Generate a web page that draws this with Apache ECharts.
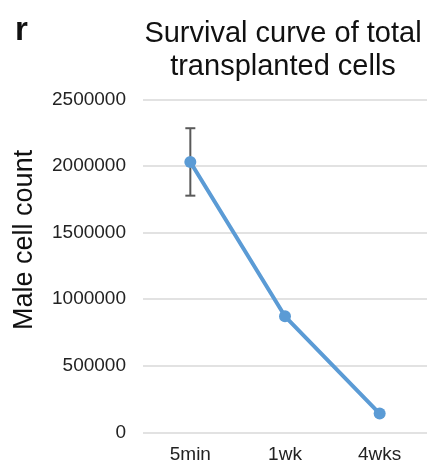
<!DOCTYPE html>
<html><head><meta charset="utf-8">
<script src="https://cdn.jsdelivr.net/npm/echarts@6/dist/echarts.min.js"></script>
<style>html,body{margin:0;padding:0;background:#fff}#c{width:427px;height:465px}</style>
</head><body><div id="c"></div>
<script>
var categories = ['5min', '1wk', '4wks'];
var cellCounts = [2030000, 872000, 142000];
var errorSizes = [253000, 0, 0];
var yTicks = [0, 500000, 1000000, 1500000, 2000000, 2500000];

var chart = echarts.init(document.getElementById('c'), null, {renderer: 'canvas'});
var errData = categories.map(function (c, i) {
  return [i, cellCounts[i] - errorSizes[i], cellCounts[i] + errorSizes[i]];
}).filter(function (d) { return d[2] > d[1]; });

chart.setOption({
  animation: false,
  backgroundColor: '#fff',
  textStyle: {fontFamily: 'Liberation Sans, Arial, sans-serif'},
  title: [{
    text: 'Survival curve of total\ntransplanted cells',
    left: 278, top: 12, textAlign: 'center',
    textStyle: {fontSize: 29, fontWeight: 'normal', color: '#111', lineHeight: 33, fontFamily: 'Liberation Sans, Arial, sans-serif'}
  }, {
    text: 'r', left: 10, top: 9,
    textStyle: {fontSize: 33, fontWeight: 'bold', color: '#111', fontFamily: 'Liberation Sans, Arial, sans-serif'}
  }],
  grid: {left: 143, right: -3, top: 99.3, bottom: 32.5, containLabel: false},
  xAxis: {
    type: 'category', data: categories, boundaryGap: true,
    axisLine: {show: false}, axisTick: {show: false},
    axisLabel: {color: '#222', fontSize: 19, margin: 13}
  },
  yAxis: {
    type: 'value', min: yTicks[0], max: yTicks[yTicks.length - 1], interval: 500000,
    name: 'Male cell count', nameLocation: 'middle', nameGap: 105, nameRotate: 90,
    nameTextStyle: {fontSize: 27, color: '#111', padding: [0, 0, 0, 52]},
    axisLine: {show: false}, axisTick: {show: false},
    axisLabel: {color: '#222', fontSize: 19, margin: 17, formatter: function (v) { return String(v); }},
    splitLine: {lineStyle: {color: '#d9d9d9', width: 1.5}}
  },
  series: [{
    type: 'line', data: cellCounts,
    symbol: 'circle', symbolSize: 12,
    lineStyle: {color: '#5b9bd5', width: 4},
    itemStyle: {color: '#5b9bd5'},
    z: 3
  }, {
    type: 'custom', data: errData, z: 2,
    renderItem: function (params, api) {
      var lo = api.coord([api.value(0), api.value(1)]);
      var hi = api.coord([api.value(0), api.value(2)]);
      var hw = 5;
      var st = {stroke: '#595959', lineWidth: 2};
      return {type: 'group', children: [
        {type: 'line', shape: {x1: hi[0], y1: hi[1], x2: lo[0], y2: lo[1]}, style: st},
        {type: 'line', shape: {x1: hi[0] - hw, y1: hi[1], x2: hi[0] + hw, y2: hi[1]}, style: st},
        {type: 'line', shape: {x1: lo[0] - hw, y1: lo[1], x2: lo[0] + hw, y2: lo[1]}, style: st}
      ]};
    }
  }]
});
</script></body></html>
